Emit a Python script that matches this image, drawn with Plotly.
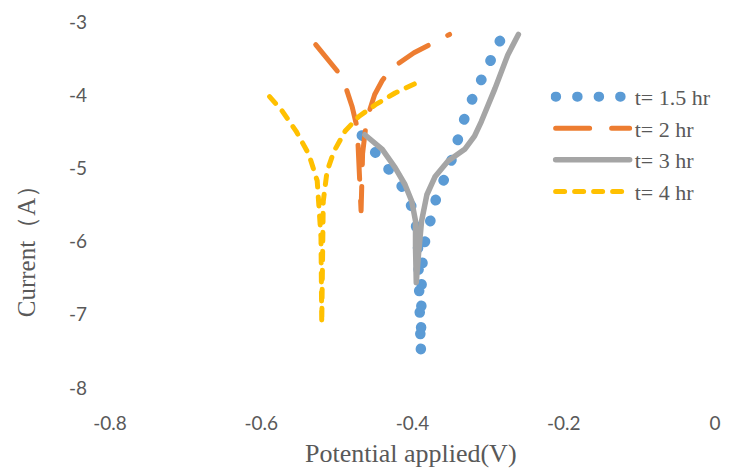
import plotly.graph_objects as go

# t = 1.5 hr (blue, round dots)
x15 = [-0.467, -0.450, -0.437, -0.427, -0.415, -0.406, -0.398, -0.393, -0.390, -0.389,
       -0.388, -0.386, -0.381, -0.375, -0.366, -0.354, -0.345, -0.339, -0.328, -0.316,
       -0.303, -0.290, -0.277]
y15 = [-4.55, -4.78, -4.95, -5.04, -5.23, -5.41, -5.60, -5.95, -6.60, -7.51,
       -6.60, -6.10, -5.90, -5.62, -5.30, -5.07, -4.77, -4.48, -4.21, -3.94,
       -3.67, -3.385, -3.10]

# t = 2 hr (orange, long dash)
x2 = [-0.528, -0.512, -0.497, -0.488, -0.480, -0.473, -0.471, -0.470, -0.468,
      -0.467, -0.466, -0.462, -0.458, -0.450, -0.440, -0.430, -0.419, -0.398, -0.375, -0.351]
y2 = [-3.31, -3.50, -3.70, -3.90, -4.15, -4.45, -4.80, -5.20, -5.58,
      -5.20, -4.80, -4.45, -4.25, -3.99, -3.80, -3.66, -3.57, -3.42, -3.29, -3.17]

# t = 3 hr (gray, solid)
x3 = [-0.463, -0.440, -0.423, -0.410, -0.401, -0.396, -0.396, -0.395,
      -0.392, -0.388, -0.381, -0.370, -0.353, -0.331, -0.318, -0.309, -0.291, -0.274, -0.260]
y3 = [-4.54, -4.74, -4.99, -5.22, -5.45, -5.72, -6.08, -6.56,
      -6.17, -5.72, -5.36, -5.11, -4.90, -4.74, -4.56, -4.36, -3.91, -3.45, -3.17]

# t = 4 hr (yellow, short dash)
x4 = [-0.589, -0.572, -0.554, -0.537, -0.526, -0.523, -0.521, -0.520,
      -0.519, -0.518, -0.513, -0.504, -0.489, -0.471, -0.449, -0.423, -0.386]
y4 = [-4.02, -4.22, -4.49, -4.81, -5.17, -5.54, -5.94, -7.12,
      -6.00, -5.45, -5.04, -4.77, -4.49, -4.29, -4.13, -3.97, -3.79]

names = ["t= 1.5 hr", "t= 2 hr", "t= 3 hr", "t= 4 hr"]
colors = ["#5B9BD5", "#ED7D31", "#A5A5A5", "#FFC000"]
widths = [10.5, 5, 5.5, 5]
dashes = ["0.5px,21px", "34px,22px", "solid", "9px,10px"]
xs = [x15, x2, x3, x4]
ys = [y15, y2, y3, y4]

x_ticks = [-0.8, -0.6, -0.4, -0.2, 0]
x_ticktext = ["-0.8", "-0.6", "-0.4", "-0.2", "0"]
y_ticks = [-8, -7, -6, -5, -4, -3]
y_ticktext = ["-8", "-7", "-6", "-5", "-4", "-3"]

fig = go.Figure()
for x, y, n, c, w, d in zip(xs, ys, names, colors, widths, dashes):
    fig.add_trace(go.Scatter(x=x, y=y, mode="lines", name=n,
                             line=dict(color=c, width=w, dash=d)))

# plot-area pixel geometry
W, H = 731, 469
pl, pr, pt, pb = 110, W - 10, 21, H - 81
def px2paper(px, py):
    return (px - pl) / (pr - pl), (pb - py) / (pb - pt)

tickfont = dict(family="Lato, Open Sans, sans-serif", size=19, color="#595959")
serif = "Liberation Serif, Times New Roman, serif"
lx, ly = px2paper(555, 75)
ax, ay = px2paper(414, 454)
bx, by = px2paper(26, 245)

fig.update_layout(
    width=W, height=H,
    margin=dict(l=pl, r=W - pr, t=pt, b=H - pb),
    paper_bgcolor="white", plot_bgcolor="white",
    showlegend=True,
    legend=dict(x=lx, y=ly, xanchor="left", yanchor="top",
                font=dict(family=serif, size=22, color="#595959"),
                itemwidth=74, bgcolor="rgba(0,0,0,0)", tracegroupgap=0),
    xaxis=dict(range=[-0.8, 0], tickvals=x_ticks, ticktext=x_ticktext,
               showgrid=False, zeroline=False, showline=False, ticks="",
               tickfont=tickfont, ticklabelstandoff=22),
    yaxis=dict(range=[-8, -3], tickvals=y_ticks, ticktext=y_ticktext,
               showgrid=False, zeroline=False, showline=False, ticks="",
               tickfont=tickfont, ticklabelstandoff=22),
    annotations=[
        dict(text="Potential applied(V)", x=ax, y=ay, xref="paper", yref="paper",
             xanchor="center", yanchor="middle", showarrow=False,
             font=dict(family=serif, size=26, color="#595959")),
        dict(text="Current（A）", textangle=-90, x=bx, y=by, xref="paper", yref="paper",
             xanchor="center", yanchor="middle", showarrow=False,
             font=dict(family=serif, size=25, color="#595959")),
    ],
)

post = ("document.querySelectorAll('path.js-line, .legendlines path').forEach(function(p){"
        "p.style.strokeLinecap='round';p.style.strokeLinejoin='round';});")
fig.write_html("out.html", post_script=post)
